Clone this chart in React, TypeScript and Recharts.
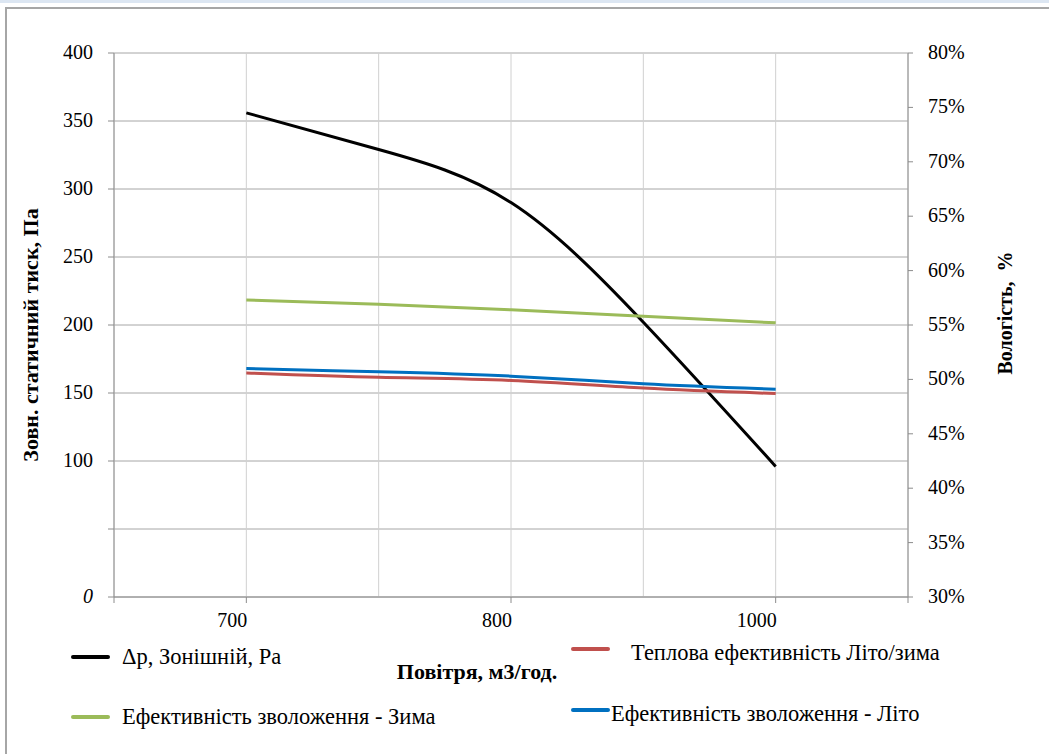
import { LineChart, Line, XAxis, YAxis, CartesianGrid } from 'recharts';

const xLabels = ['', '700', '', '800', '', '1000', ''];
const xMajor = [0, 1, 3, 5, 6];
const xIdx = [1, 2, 3, 4, 5];
const pressure = [356, 329, 290, 202, 96];
const heatEff = [50.6, 50.2, 49.9, 49.2, 48.7];
const humWinter = [57.3, 56.9, 56.4, 55.8, 55.2];
const humSummer = [51.0, 50.7, 50.3, 49.6, 49.1];
const leftTicks = [0, 50, 100, 150, 200, 250, 300, 350, 400];
const rightTicks = [30, 35, 40, 45, 50, 55, 60, 65, 70, 75, 80];

const series = [
  { key: 'dp', name: 'Δp, Зонішній, Pa', color: '#000000', axis: 'left', values: pressure },
  { key: 'heat', name: 'Теплова ефективність Літо/зима', color: '#c0504d', axis: 'right', values: heatEff },
  { key: 'winter', name: 'Ефективність зволоження - Зима', color: '#9bbb59', axis: 'right', values: humWinter },
  { key: 'summer', name: 'Ефективність зволоження - Літо', color: '#0070c0', axis: 'right', values: humSummer },
];

const data = xIdx.map((i, n) => {
  const row: Record<string, number> = { i };
  series.forEach((s) => { row[s.key] = s.values[n]; });
  return row;
});

const FONT = 'Liberation Serif, DejaVu Serif, serif';
const txt = (size: number, extra: any = {}) => ({ fontFamily: FONT, fontSize: size, fill: '#000', ...extra });

const XTick = (props: any) => {
  const { x, y, payload } = props;
  const idx = payload.value as number;
  return (
    <g>
      {xMajor.includes(idx) && <line x1={x} y1={y} x2={x} y2={y + 6} stroke="#8c8c8c" />}
      <text x={x + 1} y={y + 30} textAnchor="end" style={txt(20)}>
        {xLabels[idx]}
      </text>
    </g>
  );
};

const LeftTick = (props: any) => {
  const { x, y, payload } = props;
  const v = payload.value as number;
  if (v === 50) return null;
  return (
    <text x={x} y={y} dy={6} textAnchor="end" style={txt(20, { fontStyle: v === 0 ? 'italic' : 'normal' })}>
      {v}
    </text>
  );
};

const RightTick = (props: any) => {
  const { x, y, payload } = props;
  return (
    <text x={x} y={y} dy={6} textAnchor="start" style={txt(20)}>
      {payload.value}%
    </text>
  );
};

// legend slots: [line x, line y, text x, text y]
const legendSlots = [
  [73, 657, 122, 657],
  [573, 649, 631, 653],
  [73, 717, 122, 717],
  [573, 710, 611, 714],
];

export default function App() {
  return (
    <div style={{ position: 'absolute', left: 0, top: 0, width: 1049, height: 754, background: '#fff', overflow: 'hidden' }}>
      <div style={{ position: 'absolute', left: 0, top: 0, width: 1049, height: 3, background: '#dce6f2' }} />
      <div style={{ position: 'absolute', left: 5, top: 7, width: 1060, height: 760, borderLeft: '2px solid #a6a6a6', borderTop: '2px solid #a6a6a6' }} />
      <div style={{ position: 'absolute', left: 0, top: 0 }}>
        <LineChart width={1049} height={754} data={data} margin={{ top: 53, right: 0, bottom: 0, left: 0 }}>
          <CartesianGrid yAxisId="left" vertical={false} stroke="#a6a6a6" />
          <CartesianGrid yAxisId="left" horizontal={false} stroke="#d0d0d0" />
          <XAxis dataKey="i" type="number" domain={[0, 6]} ticks={[0, 1, 2, 3, 4, 5, 6]}
            height={157} axisLine={{ stroke: '#8c8c8c' }} tickLine={false} tickSize={0} tickMargin={0}
            tick={<XTick />} interval={0} />
          <YAxis yAxisId="left" orientation="left" width={114} domain={[0, 400]} ticks={leftTicks}
            axisLine={{ stroke: '#8c8c8c' }} tickLine={{ stroke: '#8c8c8c' }} tickSize={6} tickMargin={15}
            tick={<LeftTick />} interval={0} />
          <YAxis yAxisId="right" orientation="right" width={141} domain={[30, 80]} ticks={rightTicks}
            axisLine={{ stroke: '#8c8c8c' }} tickLine={{ stroke: '#8c8c8c' }} tickSize={5} tickMargin={15}
            tick={<RightTick />} interval={0} />
          {series.map((s) => (
            <Line key={s.key} yAxisId={s.axis} dataKey={s.key} name={s.name} type="natural"
              stroke={s.color} strokeWidth={3} dot={false} isAnimationActive={false} />
          ))}
        </LineChart>
      </div>
      <svg width={1049} height={754} style={{ position: 'absolute', left: 0, top: 0, pointerEvents: 'none' }}>
        <text transform="translate(38,335) rotate(-90)" textAnchor="middle" style={txt(22, { fontWeight: 'bold' })}>
          Зовн. статичний тиск, Па
        </text>
        <text transform="translate(1012,313) rotate(-90)" textAnchor="middle" style={txt(20, { fontWeight: 'bold', whiteSpace: 'pre' })}>
          {'Вологість,  %'}
        </text>
        <text x={477} y={679} textAnchor="middle" style={txt(22, { fontWeight: 'bold' })}>
          Повітря, м3/год.
        </text>
        {series.map((s, n) => {
          const [lx, ly, tx, ty] = legendSlots[n];
          return (
            <g key={s.key}>
              <line x1={lx} y1={ly} x2={lx + 35} y2={ly} stroke={s.color} strokeWidth={4} strokeLinecap="round" />
              <text x={tx} y={ty} dy={7} style={txt(22.5)}>{s.name}</text>
            </g>
          );
        })}
      </svg>
    </div>
  );
}
